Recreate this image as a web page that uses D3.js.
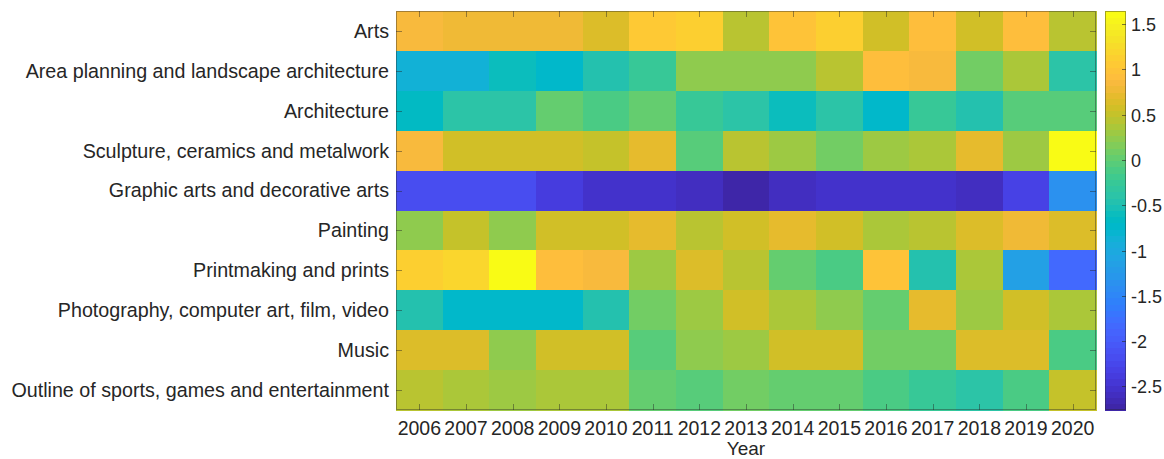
<!DOCTYPE html>
<html>
<head>
<meta charset="utf-8">
<script src="https://cdn.jsdelivr.net/npm/d3@7"></script>
<style>
  body { margin: 0; background: #fff; }
  text { font-family: "Liberation Sans", Arial, Helvetica, sans-serif; fill: #262626; }
</style>
</head>
<body>
<div id="chart"></div>
<script>
// row labels (top to bottom) and years
const categories = [
  "Arts",
  "Area planning and landscape architecture",
  "Architecture",
  "Sculpture, ceramics and metalwork",
  "Graphic arts and decorative arts",
  "Painting",
  "Printmaking and prints",
  "Photography, computer art, film, video",
  "Music",
  "Outline of sports, games and entertainment"
];
const years = [2006, 2007, 2008, 2009, 2010, 2011, 2012, 2013, 2014, 2015, 2016, 2017, 2018, 2019, 2020];

// one row per category
const arts        = [0.86, 0.79, 0.79, 0.79, 0.65, 1.05, 1.15, 0.44, 1.00, 1.10, 0.58, 0.93, 0.60, 0.93, 0.44];
const areaPlan    = [-0.87, -0.87, -0.60, -0.73, -0.46, -0.25, 0.20, 0.20, 0.20, 0.45, 0.93, 0.85, 0.07, 0.37, -0.39];
const architect   = [-0.66, -0.39, -0.39, 0.03, -0.10, 0.03, -0.25, -0.39, -0.60, -0.39, -0.73, -0.25, -0.46, -0.03, -0.03];
const sculpture   = [0.85, 0.55, 0.55, 0.55, 0.50, 0.72, -0.03, 0.44, 0.27, 0.07, 0.27, 0.37, 0.72, 0.27, 1.645];
const graphic     = [-2.18, -2.18, -2.18, -2.38, -2.52, -2.55, -2.60, -2.76, -2.60, -2.55, -2.52, -2.52, -2.60, -2.31, -1.35];
const painting    = [0.20, 0.50, 0.20, 0.57, 0.57, 0.72, 0.44, 0.57, 0.72, 0.57, 0.37, 0.44, 0.65, 0.80, 0.65];
const printmaking = [1.10, 1.20, 1.58, 0.93, 0.85, 0.27, 0.65, 0.47, 0.03, -0.10, 1.00, -0.46, 0.37, -1.15, -1.83];
const photography = [-0.46, -0.70, -0.70, -0.73, -0.46, 0.13, 0.27, 0.55, 0.37, 0.20, 0.03, 0.72, 0.27, 0.57, 0.37];
const music       = [0.65, 0.65, 0.20, 0.57, 0.57, -0.03, 0.20, 0.27, 0.55, 0.60, 0.07, 0.13, 0.65, 0.65, -0.10];
const sports      = [0.44, 0.37, 0.30, 0.37, 0.37, 0.03, -0.03, 0.07, 0.03, 0.03, -0.10, -0.25, -0.39, -0.10, 0.50];
const values = [arts, areaPlan, architect, sculpture, graphic, painting, printmaking, photography, music, sports];

const cbTicks = [-2.5, -2, -1.5, -1, -0.5, 0, 0.5, 1, 1.5];

// parula, 64 steps
const parula = [
  [0.2422,0.1504,0.6603],[0.2504,0.1650,0.7076],[0.2578,0.1818,0.7511],[0.2647,0.1978,0.7952],
  [0.2706,0.2147,0.8364],[0.2751,0.2342,0.8710],[0.2783,0.2559,0.8991],[0.2803,0.2782,0.9221],
  [0.2813,0.3006,0.9414],[0.2810,0.3228,0.9579],[0.2795,0.3447,0.9717],[0.2760,0.3667,0.9829],
  [0.2699,0.3892,0.9906],[0.2602,0.4123,0.9952],[0.2440,0.4358,0.9988],[0.2206,0.4603,0.9973],
  [0.1963,0.4847,0.9892],[0.1834,0.5074,0.9798],[0.1786,0.5289,0.9682],[0.1764,0.5499,0.9520],
  [0.1687,0.5703,0.9359],[0.1540,0.5902,0.9218],[0.1460,0.6091,0.9079],[0.1380,0.6276,0.8973],
  [0.1248,0.6459,0.8883],[0.1113,0.6635,0.8763],[0.0952,0.6798,0.8598],[0.0689,0.6948,0.8394],
  [0.0297,0.7082,0.8163],[0.0036,0.7203,0.7917],[0.0067,0.7312,0.7660],[0.0433,0.7411,0.7394],
  [0.0964,0.7500,0.7120],[0.1408,0.7584,0.6842],[0.1717,0.7670,0.6554],[0.1938,0.7758,0.6251],
  [0.2161,0.7843,0.5923],[0.2470,0.7918,0.5567],[0.2906,0.7973,0.5188],[0.3406,0.8008,0.4789],
  [0.3909,0.8029,0.4354],[0.4456,0.8024,0.3909],[0.5044,0.7993,0.3480],[0.5616,0.7942,0.3045],
  [0.6174,0.7876,0.2612],[0.6720,0.7793,0.2227],[0.7242,0.7698,0.1910],[0.7738,0.7598,0.1646],
  [0.8203,0.7498,0.1535],[0.8634,0.7406,0.1596],[0.9035,0.7330,0.1774],[0.9393,0.7288,0.2100],
  [0.9728,0.7298,0.2394],[0.9956,0.7434,0.2371],[0.9970,0.7659,0.2199],[0.9952,0.7893,0.2028],
  [0.9892,0.8136,0.1885],[0.9786,0.8386,0.1766],[0.9676,0.8639,0.1643],[0.9610,0.8890,0.1537],
  [0.9597,0.9135,0.1423],[0.9628,0.9373,0.1265],[0.9691,0.9606,0.1064],[0.9769,0.9839,0.0805]
].map(c => d3.rgb(c[0] * 255, c[1] * 255, c[2] * 255).formatHex());

const W = 1164, H = 459;
const plot = { left: 396, top: 11, right: 1096, bottom: 410 };
const cb = { left: 1105, right: 1126 };

const svg = d3.select("#chart").append("svg")
  .attr("width", W)
  .attr("height", H);

const x = d3.scaleBand().domain(years).range([plot.left, plot.right]);
const y = d3.scaleBand().domain(categories).range([plot.top, plot.bottom]);

const all = values.flat();
const color = d3.scaleQuantize().domain(d3.extent(all)).range(parula);

// cells
const cells = [];
values.forEach((row, i) => row.forEach((v, j) => cells.push({ cat: categories[i], year: years[j], v: v })));

svg.append("g")
  .selectAll("rect")
  .data(cells)
  .join("rect")
  .attr("x", d => x(d.year))
  .attr("y", d => y(d.cat))
  .attr("width", x.bandwidth() + 0.5)
  .attr("height", y.bandwidth() + 0.5)
  .attr("fill", d => color(d.v))
  .attr("shape-rendering", "crispEdges");

// inward ticks on all four sides
const tickLen = 6;
const tk = svg.append("g")
  .attr("stroke", "#262626")
  .attr("stroke-opacity", 0.45)
  .attr("stroke-width", 1);

years.forEach(yr => {
  const cx = Math.round(x(yr) + x.bandwidth() / 2) + 0.5;
  tk.append("line").attr("x1", cx).attr("x2", cx).attr("y1", plot.bottom).attr("y2", plot.bottom - tickLen);
  tk.append("line").attr("x1", cx).attr("x2", cx).attr("y1", plot.top).attr("y2", plot.top + tickLen);
});
categories.forEach(c => {
  const cy = Math.round(y(c) + y.bandwidth() / 2) + 0.5;
  tk.append("line").attr("x1", plot.left).attr("x2", plot.left + tickLen).attr("y1", cy).attr("y2", cy);
  tk.append("line").attr("x1", plot.right).attr("x2", plot.right - tickLen).attr("y1", cy).attr("y2", cy);
});

// frame
svg.append("rect")
  .attr("x", plot.left + 0.5)
  .attr("y", plot.top + 0.5)
  .attr("width", plot.right - plot.left - 1)
  .attr("height", plot.bottom - plot.top - 1)
  .attr("fill", "none")
  .attr("stroke", "#262626")
  .attr("stroke-opacity", 0.4);

// labels
svg.append("g")
  .selectAll("text")
  .data(categories)
  .join("text")
  .attr("x", plot.left - 7)
  .attr("y", d => y(d) + y.bandwidth() / 2)
  .attr("dy", "0.35em")
  .attr("text-anchor", "end")
  .style("font-size", "19.7px")
  .text(d => d);

svg.append("g")
  .selectAll("text")
  .data(years)
  .join("text")
  .attr("x", d => x(d) + x.bandwidth() / 2)
  .attr("y", 435)
  .attr("text-anchor", "middle")
  .style("font-size", "19.5px")
  .text(d => d);

svg.append("text")
  .attr("x", (plot.left + plot.right) / 2)
  .attr("y", 455)
  .attr("text-anchor", "middle")
  .style("font-size", "19px")
  .text("Year");

// colorbar
const cbScale = d3.scaleLinear().domain(color.domain()).range([plot.bottom, plot.top]);
const bands = color.thresholds();
const edges = [color.domain()[0]].concat(bands, [color.domain()[1]]);

svg.append("g")
  .selectAll("rect")
  .data(parula)
  .join("rect")
  .attr("x", cb.left)
  .attr("width", cb.right - cb.left)
  .attr("y", (d, i) => cbScale(edges[i + 1]))
  .attr("height", (d, i) => cbScale(edges[i]) - cbScale(edges[i + 1]) + 0.5)
  .attr("fill", d => d)
  .attr("shape-rendering", "crispEdges");

svg.append("rect")
  .attr("x", cb.left + 0.5)
  .attr("y", plot.top + 0.5)
  .attr("width", cb.right - cb.left - 1)
  .attr("height", plot.bottom - plot.top - 1)
  .attr("fill", "none")
  .attr("stroke", "#262626")
  .attr("stroke-opacity", 0.4);

const cbt = svg.append("g");
cbTicks.forEach(t => {
  const ty = Math.round(cbScale(t)) + 0.5;
  cbt.append("line")
    .attr("x1", cb.right).attr("x2", cb.right - 4)
    .attr("y1", ty).attr("y2", ty)
    .attr("stroke", "#262626").attr("stroke-opacity", 0.6);
  cbt.append("text")
    .attr("x", cb.right + 5)
    .attr("y", ty)
    .attr("dy", "0.35em")
    .style("font-size", "18px")
    .text(t);
});
</script>
</body>
</html>
